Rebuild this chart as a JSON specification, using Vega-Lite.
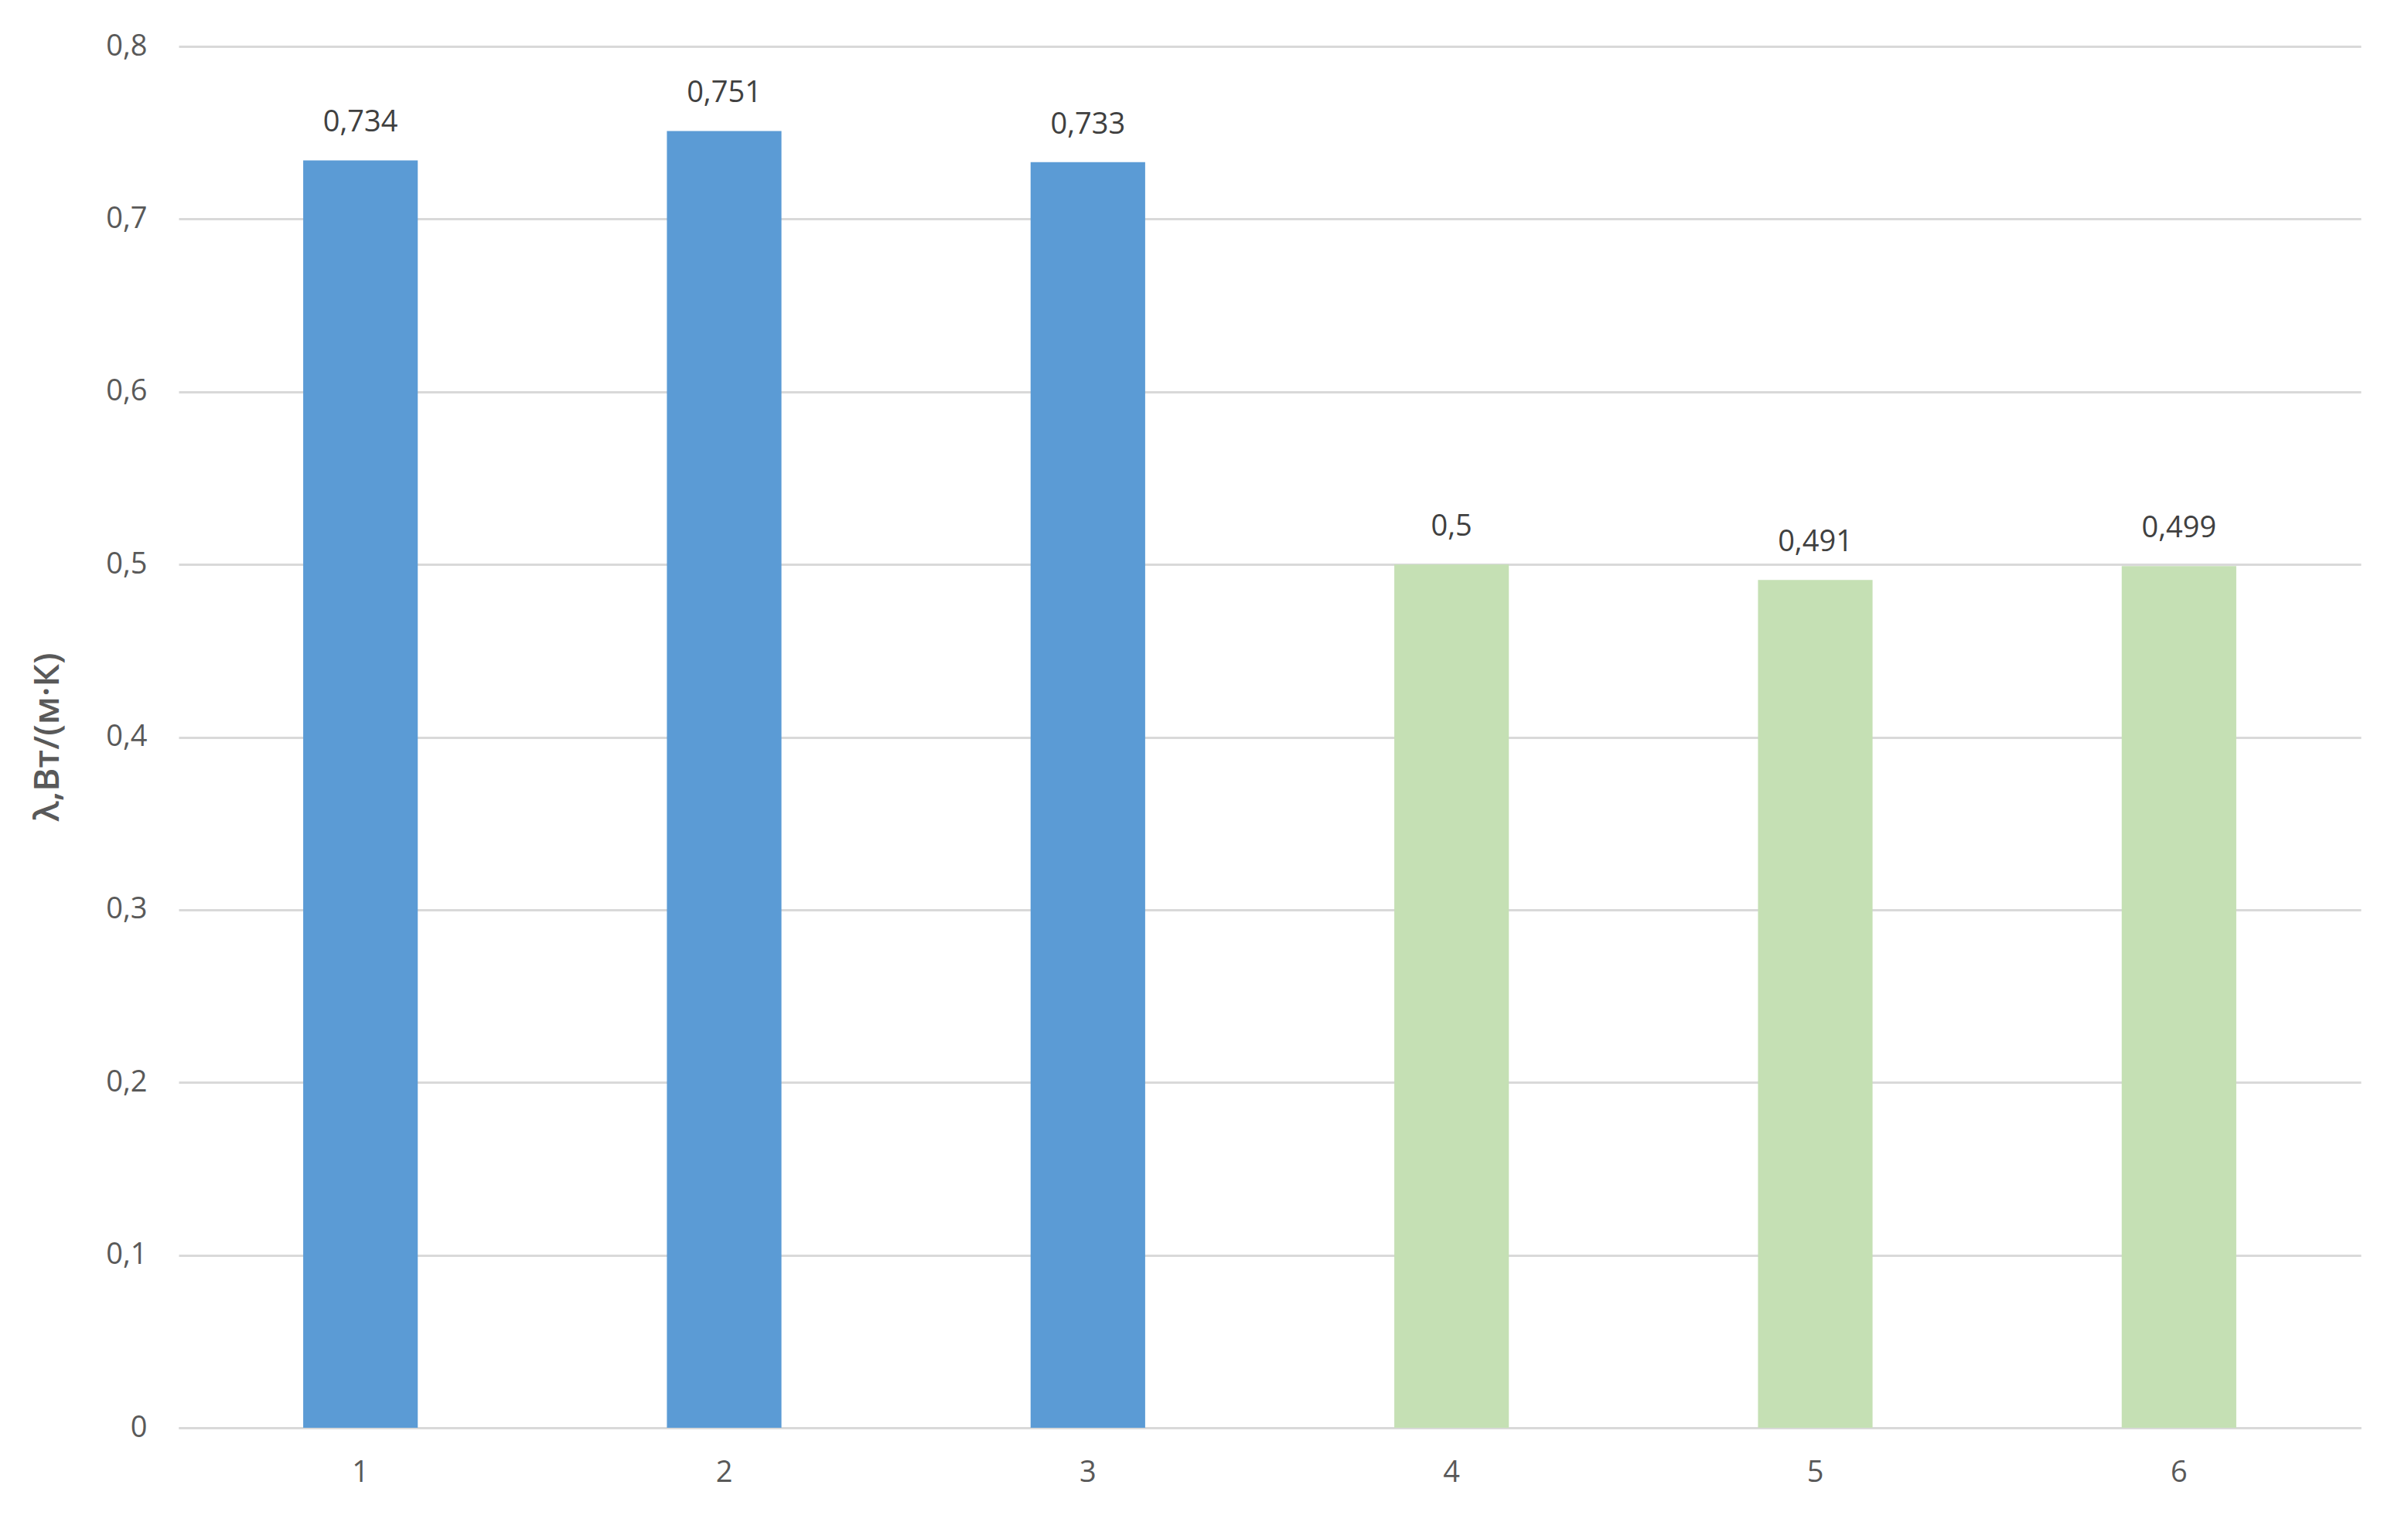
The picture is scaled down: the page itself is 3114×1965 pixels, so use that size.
{
  "$schema": "https://vega.github.io/schema/vega-lite/v6.json",
  "autosize": {"type": "none"},
  "padding": {"left": 231, "top": 60, "right": 61, "bottom": 118},
  "width": 2822,
  "height": 1787,
  "background": "white",
  "config": {
    "view": {"stroke": null},
    "font": "Open Sans",
    "locale": {"number": {"decimal": ",", "thousands": " ", "grouping": [3], "currency": ["", ""]}}
  },
  "data": {
    "values": [
      {"sample": "1", "lambda": 0.734, "group": "A"},
      {"sample": "2", "lambda": 0.751, "group": "A"},
      {"sample": "3", "lambda": 0.733, "group": "A"},
      {"sample": "4", "lambda": 0.5, "group": "B"},
      {"sample": "5", "lambda": 0.491, "group": "B"},
      {"sample": "6", "lambda": 0.499, "group": "B"}
    ]
  },
  "encoding": {
    "x": {
      "field": "sample", "type": "nominal",
      "scale": {"paddingInner": 0.685, "paddingOuter": 0.3425},
      "axis": {
        "title": null, "labelAngle": 0, "labelFontSize": 38, "labelColor": "#595959",
        "labelPadding": 39, "ticks": false, "domainColor": "#D9D9D9", "domainWidth": 3,
        "labelFont": "Open Sans"
      }
    },
    "y": {
      "field": "lambda", "type": "quantitative",
      "scale": {"domain": [0, 0.8], "nice": false},
      "axis": {
        "title": "λ,Вт/(м·К)", "values": [0, 0.1, 0.2, 0.3, 0.4, 0.5, 0.6, 0.7, 0.8],
        "labelExpr": "replace(format(datum.value, '.1~f'), '.', ',')",
        "labelFontSize": 38, "labelColor": "#595959", "labelPadding": 41,
        "ticks": false, "domain": false, "gridColor": "#D9D9D9", "gridWidth": 3,
        "titleFontSize": 46, "titleColor": "#595959", "titleFontWeight": 600,
        "titleX": -170, "titleY": 893, "titleAngle": -90, "titleAlign": "center", "titleBaseline": "middle"
      }
    }
  },
  "layer": [
    {
      "mark": {"type": "bar"},
      "encoding": {
        "color": {"field": "group", "type": "nominal", "scale": {"domain": ["A", "B"], "range": ["#5B9BD5", "#C5E0B4"]}, "legend": null}
      }
    },
    {
      "mark": {"type": "text", "baseline": "alphabetic", "dy": -37, "fontSize": 38, "color": "#404040"},
      "encoding": {
        "text": {"field": "lambda", "type": "quantitative", "format": "~g"}
      }
    }
  ]
}
